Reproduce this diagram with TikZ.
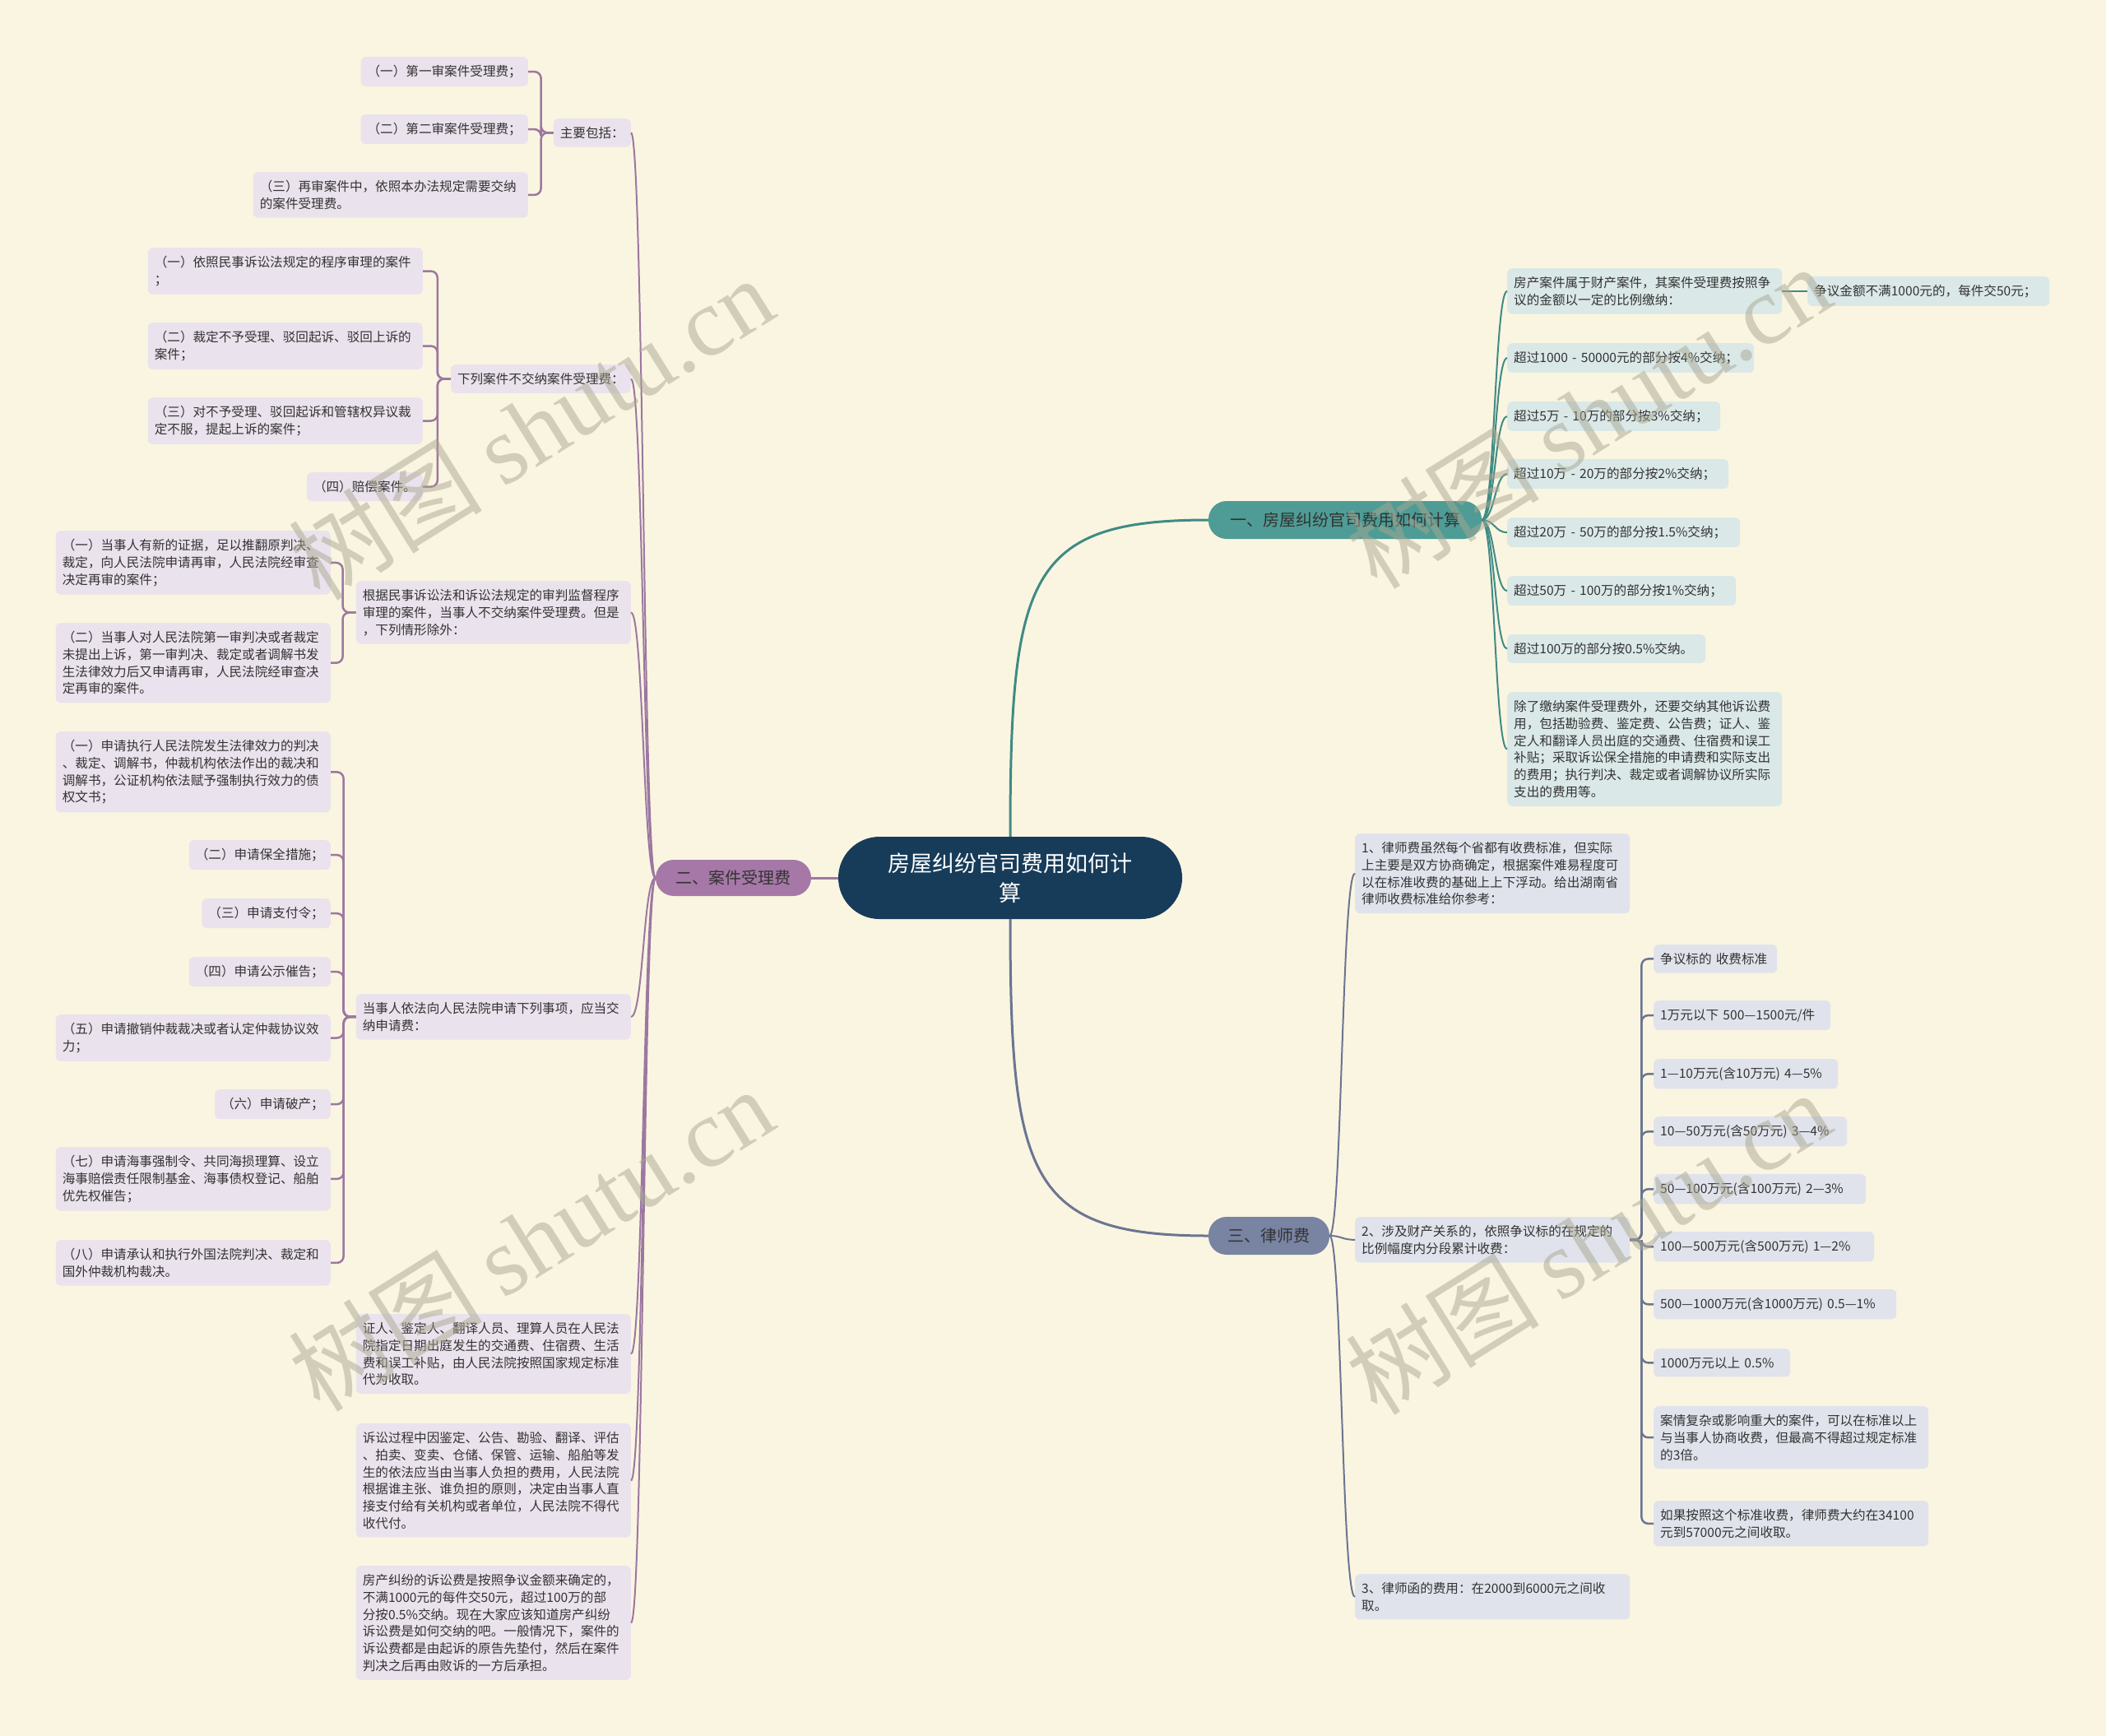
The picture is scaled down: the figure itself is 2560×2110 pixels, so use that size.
\documentclass[tikz,border=0pt]{standalone}
\usepackage{fontspec}
\setmainfont{Noto Sans CJK SC}
\newfontfamily\wmcjk{Noto Sans CJK SC}
\newfontfamily\wmlat{Liberation Serif}
\definecolor{bg}{HTML}{FAF5E1}
\definecolor{rootc}{HTML}{173C5A}
\definecolor{bonec}{HTML}{4E9C95}
\definecolor{btwoc}{HTML}{A678A7}
\definecolor{bthreec}{HTML}{7983A2}
\definecolor{cfill}{HTML}{DAE8E7}
\definecolor{pfill}{HTML}{EAE2EC}
\definecolor{dfill}{HTML}{E0E3EB}
\definecolor{lone}{HTML}{3F8B84}
\definecolor{ltwo}{HTML}{9C78A0}
\definecolor{lthree}{HTML}{6B7592}
\definecolor{txt}{HTML}{333333}
\definecolor{wm}{HTML}{A9A792}
\tikzset{
  base/.style={rounded corners=6pt, inner xsep=8pt, inner ysep=10pt, align=left,
    font=\fontsize{15.6}{20.8}\selectfont, text=txt},
  pn/.style={base, fill=pfill, anchor=north east},
  cn/.style={base, fill=cfill, anchor=north west},
  dn/.style={base, fill=dfill, anchor=north west},
  wide/.style={text width=318pt},
  bw/.style={text width=#1pt-16pt},
  bn/.style={rounded corners=22pt, inner sep=0pt, text=txt, font=\fontsize{20}{24}\selectfont},
  cone/.style={draw=lone, line width=2pt},
  ctwo/.style={draw=ltwo, line width=2pt},
  cthree/.style={draw=lthree, line width=2pt},
  brtwo/.style={draw=ltwo, line width=2.5pt, rounded corners=8pt},
  brthree/.style={draw=lthree, line width=2.5pt, rounded corners=8pt},
  wmark/.style={text=wm, opacity=0.5, rotate=32, inner sep=0pt},
}
\begin{document}
\begin{tikzpicture}[x=1pt, y=-1pt]
\useasboundingbox (0,0) rectangle (2560,2110);
\fill[bg] (0,0) rectangle (2560,2110);

% root and branches
\node[fill=rootc, rounded corners=50pt, minimum width=418pt, minimum height=100pt, inner sep=0pt,
  text=white, align=center, font=\fontsize{27}{36}\selectfont] (root) at (1228,1067) {房屋纠纷官司费用如何计\\算};
\node[bn, fill=bonec, minimum width=332pt, minimum height=46pt] (b1) at (1635,632) {一、房屋纠纷官司费用如何计算};
\node[bn, fill=btwoc, minimum width=189pt, minimum height=44pt] (b2) at (891.5,1067) {二、案件受理费};
\node[bn, fill=bthreec, minimum width=147pt, minimum height=46pt] (b3) at (1542.5,1502) {三、律师费};

\draw[draw=lone, line width=3pt] (root.north) .. controls (1228,700) and (1250,632) .. (b1.west);
\draw[draw=lthree, line width=3pt] (root.south) .. controls (1228,1430) and (1250,1502) .. (b3.west);
\draw[draw=ltwo, line width=3pt] (root.west) -- (b2.east);

% ---------- branch 2 ----------
\node[pn] (p1) at (767,144) {主要包括：};
\node[pn] (k1) at (642,69) {（一）第一审案件受理费；};
\node[pn] (k2) at (642,139) {（二）第二审案件受理费；};
\node[pn, wide] (k3) at (642,209) {（三）再审案件中，依照本办法规定需要交纳\\的案件受理费。};

\node[pn] (p2) at (767,443) {下列案件不交纳案件受理费：};
\node[pn, wide] (n1) at (514,301) {（一）依照民事诉讼法规定的程序审理的案件\\；};
\node[pn, wide] (n2) at (514,392) {（二）裁定不予受理、驳回起诉、驳回上诉的\\案件；};
\node[pn, wide] (n3) at (514,483) {（三）对不予受理、驳回起诉和管辖权异议裁\\定不服，提起上诉的案件；};
\node[pn] (n4) at (514,574) {（四）赔偿案件。};

\node[pn, wide] (p3) at (767,706) {根据民事诉讼法和诉讼法规定的审判监督程序\\审理的案件，当事人不交纳案件受理费。但是\\，下列情形除外：};
\node[pn, wide] (r1) at (402,645) {（一）当事人有新的证据，足以推翻原判决、\\裁定，向人民法院申请再审，人民法院经审查\\决定再审的案件；};
\node[pn, wide] (r2) at (402,757) {（二）当事人对人民法院第一审判决或者裁定\\未提出上诉，第一审判决、裁定或者调解书发\\生法律效力后又申请再审，人民法院经审查决\\定再审的案件。};

\node[pn, wide] (p4) at (767,1208) {当事人依法向人民法院申请下列事项，应当交\\纳申请费：};
\node[pn, wide] (q1) at (402,889) {（一）申请执行人民法院发生法律效力的判决\\、裁定、调解书，仲裁机构依法作出的裁决和\\调解书，公证机构依法赋予强制执行效力的债\\权文书；};
\node[pn] (q2) at (402,1021) {（二）申请保全措施；};
\node[pn] (q3) at (402,1092) {（三）申请支付令；};
\node[pn] (q4) at (402,1163) {（四）申请公示催告；};
\node[pn, wide] (q5) at (402,1233) {（五）申请撤销仲裁裁决或者认定仲裁协议效\\力；};
\node[pn] (q6) at (402,1324) {（六）申请破产；};
\node[pn, wide] (q7) at (402,1394) {（七）申请海事强制令、共同海损理算、设立\\海事赔偿责任限制基金、海事债权登记、船舶\\优先权催告；};
\node[pn, wide] (q8) at (402,1507) {（八）申请承认和执行外国法院判决、裁定和\\国外仲裁机构裁决。};

\node[pn, wide] (p5) at (767,1597) {证人、鉴定人、翻译人员、理算人员在人民法\\院指定日期出庭发生的交通费、住宿费、生活\\费和误工补贴，由人民法院按照国家规定标准\\代为收取。};
\node[pn, wide] (p6) at (767,1730) {诉讼过程中因鉴定、公告、勘验、翻译、评估\\、拍卖、变卖、仓储、保管、运输、船舶等发\\生的依法应当由当事人负担的费用，人民法院\\根据谁主张、谁负担的原则，决定由当事人直\\接支付给有关机构或者单位，人民法院不得代\\收代付。};
\node[pn, wide] (p7) at (767,1903) {房产纠纷的诉讼费是按照争议金额来确定的，\\不满1000元的每件交50元，超过100万的部\\分按0.5\%交纳。现在大家应该知道房产纠纷\\诉讼费是如何交纳的吧。一般情况下，案件的\\诉讼费都是由起诉的原告先垫付，然后在案件\\判决之后再由败诉的一方后承担。};

\foreach \c in {p1,p2,p3,p4,p5,p6,p7}{
  \draw[ctwo] (b2.west) .. controls (782,1067) and (782,0|-\c.east) .. (\c.east);
}
\foreach \c in {k1,k2,k3}{ \draw[brtwo] (p1.west) -- ([xshift=-15pt]p1.west) |- (\c.east); }
\foreach \c in {n1,n2,n3,n4}{ \draw[brtwo] (p2.west) -- ([xshift=-16pt]p2.west) |- (\c.east); }
\foreach \c in {r1,r2}{ \draw[brtwo] (p3.west) -- ([xshift=-16pt]p3.west) |- (\c.east); }
\foreach \c in {q1,q2,q3,q4,q5,q6,q7,q8}{ \draw[brtwo] (p4.west) -- ([xshift=-15pt]p4.west) |- (\c.east); }

% ---------- branch 1 ----------
\node[cn, wide] (c1) at (1832,326) {房产案件属于财产案件，其案件受理费按照争\\议的金额以一定的比例缴纳：};
\node[cn, bw=294] (c1a) at (2197,336) {争议金额不满1000元的，每件交50元；};
\node[cn, bw=300] (c2) at (1832,417) {超过1000 - 50000元的部分按4\%交纳；};
\node[cn, bw=259] (c3) at (1832,488) {超过5万 - 10万的部分按3\%交纳；};
\node[cn, bw=269] (c4) at (1832,558) {超过10万 - 20万的部分按2\%交纳；};
\node[cn, bw=283] (c5) at (1832,629) {超过20万 - 50万的部分按1.5\%交纳；};
\node[cn, bw=278] (c6) at (1832,700) {超过50万 - 100万的部分按1\%交纳；};
\node[cn, bw=241] (c7) at (1832,771) {超过100万的部分按0.5\%交纳。};
\node[cn, wide] (c8) at (1832,841) {除了缴纳案件受理费外，还要交纳其他诉讼费\\用，包括勘验费、鉴定费、公告费；证人、鉴\\定人和翻译人员出庭的交通费、住宿费和误工\\补贴；采取诉讼保全措施的申请费和实际支出\\的费用；执行判决、裁定或者调解协议所实际\\支出的费用等。};

\foreach \c in {c1,c2,c3,c4,c5,c6,c7,c8}{
  \draw[cone] (b1.east) .. controls (1817,632) and (1817,0|-\c.west) .. (\c.west);
}
\draw[draw=lone, line width=2.5pt] (c1.east) -- (c1a.west|-c1.east);

% ---------- branch 3 ----------
\node[dn, wide] (d1) at (1647,1013) {1、律师费虽然每个省都有收费标准，但实际\\上主要是双方协商确定，根据案件难易程度可\\以在标准收费的基础上上下浮动。给出湖南省\\律师收费标准给你参考：};
\node[dn, wide] (d2) at (1647,1479) {2、涉及财产关系的，依照争议标的在规定的\\比例幅度内分段累计收费：};
\node[dn, wide] (d3) at (1647,1913) {3、律师函的费用：在2000到6000元之间收\\取。};

\node[dn, bw=150] (e1) at (2010,1148) {争议标的 收费标准};
\node[dn, bw=215] (e2) at (2010,1216) {1万元以下 500—1500元/件};
\node[dn, bw=224] (e3) at (2010,1287) {1—10万元(含10万元) 4—5\%};
\node[dn, bw=235] (e4) at (2010,1357) {10—50万元(含50万元) 3—4\%};
\node[dn, bw=258] (e5) at (2010,1427) {50—100万元(含100万元) 2—3\%};
\node[dn, bw=268] (e6) at (2010,1497) {100—500万元(含500万元) 1—2\%};
\node[dn, bw=295] (e7) at (2010,1567) {500—1000万元(含1000万元) 0.5—1\%};
\node[dn, bw=166] (e8) at (2010,1639) {1000万元以上 0.5\%};
\node[dn, wide] (e9) at (2010,1709) {案情复杂或影响重大的案件，可以在标准以上\\与当事人协商收费，但最高不得超过规定标准\\的3倍。};
\node[dn, wide] (e10) at (2010,1824) {如果按照这个标准收费，律师费大约在34100\\元到57000元之间收取。};

\foreach \c in {d1,d2,d3}{
  \draw[cthree] (b3.east) .. controls (1631,1502) and (1631,0|-\c.west) .. (\c.west);
}
\foreach \c in {e1,e2,e3,e4,e5,e6,e7,e8,e9,e10}{ \draw[brthree] (d2.east) -- ([xshift=14pt]d2.east) |- (\c.west); }

% ---------- watermarks ----------
\node[wmark] (wm1) at (645,520) {\fontsize{118}{118}\selectfont\wmcjk 树图\ \wmlat shutu.cn};
\node[wmark] (wm2) at (645,1506) {\fontsize{118}{118}\selectfont\wmcjk 树图\ \wmlat shutu.cn};
\node[wmark] (wm3) at (1930,506) {\fontsize{118}{118}\selectfont\wmcjk 树图\ \wmlat shutu.cn};
\node[wmark] (wm4) at (1930,1510) {\fontsize{118}{118}\selectfont\wmcjk 树图\ \wmlat shutu.cn};
\end{tikzpicture}
\end{document}
